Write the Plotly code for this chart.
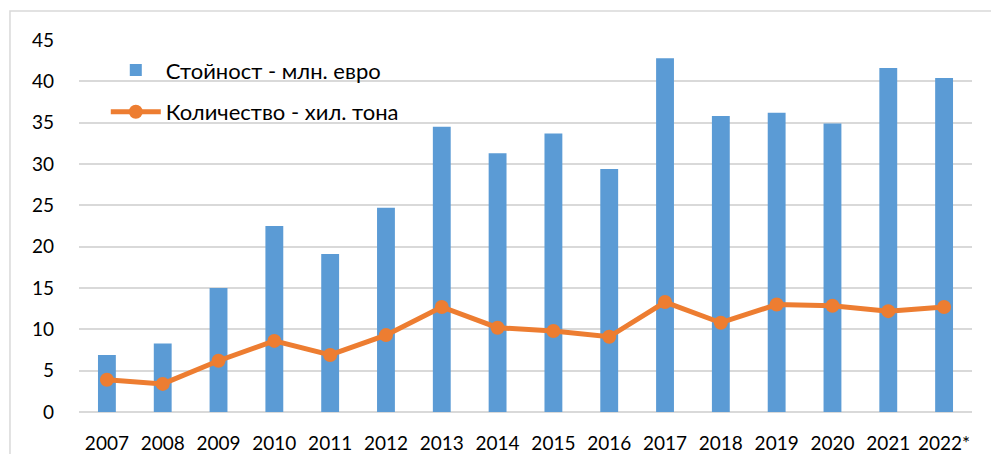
import plotly.graph_objects as go

years = ["2007", "2008", "2009", "2010", "2011", "2012", "2013", "2014",
         "2015", "2016", "2017", "2018", "2019", "2020", "2021", "2022*"]
value_meur = [6.9, 8.3, 15.0, 22.5, 19.1, 24.7, 34.5, 31.3,
              33.7, 29.4, 42.8, 35.8, 36.2, 34.9, 41.6, 40.4]
quantity_kt = [3.9, 3.4, 6.2, 8.6, 6.9, 9.3, 12.7, 10.2,
               9.8, 9.1, 13.3, 10.8, 13.0, 12.85, 12.2, 12.7]
y_ticks = [0, 5, 10, 15, 20, 25, 30, 35, 40, 45]

FONT = "Lato"
FS_TICK = 19
FS_LEG = 22

fig = go.Figure()
fig.add_trace(go.Bar(
    x=years, y=value_meur, name="Стойност - млн. евро",
    legendgroup="a",
    marker=dict(color="#5B9BD5", line=dict(width=0)),
))
fig.add_trace(go.Scatter(
    x=years, y=quantity_kt, name="Количество - хил. тона",
    legendgroup="b",
    mode="lines+markers",
    line=dict(color="#ED7D31", width=5),
    marker=dict(color="#ED7D31", size=14),
))

fig.update_layout(
    width=991, height=454,
    margin=dict(l=79, r=19, t=40, b=42),
    paper_bgcolor="white", plot_bgcolor="white",
    font=dict(family=FONT, size=FS_TICK, color="#000000"),
    bargap=0.68,
    showlegend=True,
    legend=dict(x=0.03, y=0.975, xanchor="left", yanchor="top",
                bgcolor="rgba(0,0,0,0)", font=dict(size=FS_LEG, family=FONT),
                itemwidth=50, tracegroupgap=10, traceorder="grouped"),
    xaxis=dict(type="category", range=[-0.5, len(years) - 0.5],
               showgrid=False, showline=False,
               tickfont=dict(size=FS_TICK, family=FONT), ticks="",
               tickangle=0, ticklabelstandoff=18, automargin=False),
    yaxis=dict(range=[0, 45], tickvals=y_ticks, showgrid=True,
               gridcolor="#D9D9D9", gridwidth=1.5, zeroline=True,
               zerolinecolor="#D9D9D9", zerolinewidth=1.5,
               showline=False, ticks="",
               tickfont=dict(size=FS_TICK, family=FONT),
               ticklabelstandoff=24, automargin=False),
    shapes=[dict(type="rect", xref="paper", yref="paper",
                 x0=-0.0773, x1=1.3, y0=-0.3, y1=1.078,
                 line=dict(color="#D9D9D9", width=1.5), layer="below")],
)

fig.write_html(
    "out.html",
    config={"displayModeBar": False},
    post_script=("document.body.style.margin='0';"
                 "document.body.style.overflow='hidden';"
                 "document.documentElement.style.overflow='hidden';"),
)
